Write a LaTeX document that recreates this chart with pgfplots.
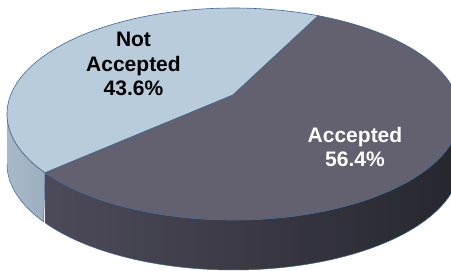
\documentclass[border=0pt]{standalone}
\usepackage{fontspec}
\setmainfont{Liberation Sans}
\usepackage{pgfplots}
\pgfplotsset{compat=1.18}
\definecolor{lighttop}{HTML}{B9CCDB}
\definecolor{lightsideL}{HTML}{A9B9C8}
\definecolor{lightsideR}{HTML}{9DAEBF}
\definecolor{darktop}{HTML}{636170}
\definecolor{darksideL}{HTML}{4D4B5A}
\definecolor{darksideR}{HTML}{26262D}
\definecolor{edge}{HTML}{3F6894}
% data: share of each slice (percent)
\def\vNot{43.6}
\def\vAcc{56.4}
% pie geometry (pixel units)
\def\cx{233.5}\def\cy{114}\def\ra{226.5}\def\rb{106}\def\h{50}
\def\px{233}\def\py{95}
\def\tA{68}\def\tB{213.7}
\begin{document}
\begin{tikzpicture}
\begin{axis}[width=451pt,height=271pt,scale only axis,
  xmin=0,xmax=451,ymin=0,ymax=271,y dir=reverse,hide axis,clip=true,
  declare function={sidet(\s,\a,\b)=(\s<1.005)*(\a+\s*(\b-\a))+(\s>=1.005)*(\b-(\s-1)*(\b-\a));
                    sidey(\s)=(\s>=1.005)*\h;}]
\addplot[draw=none] coordinates {(0,0) (451,271)};
% sides
\addplot[draw=edge, line width=0.5pt, left color=lightsideL, right color=lightsideR,
  domain=0:2, samples=101, variable=\s]
  ({\cx+\ra*cos(sidet(\s,180,\tB))},{\cy-\rb*sin(sidet(\s,180,\tB))+sidey(\s)});
\addplot[draw=edge, line width=0.5pt, left color=darksideL, right color=darksideR,
  domain=0:2, samples=201, variable=\s]
  ({\cx+\ra*cos(sidet(\s,\tB,360))},{\cy-\rb*sin(sidet(\s,\tB,360))+sidey(\s)});
% top faces
\addplot[fill=lighttop, draw=edge, line width=0.6pt, domain=\tA:\tB, samples=120]
  ({\cx+\ra*cos(x)},{\cy-\rb*sin(x)}) -- (\px,\py) -- cycle;
\addplot[fill=darktop, draw=edge, line width=0.6pt, domain=\tB:\tA+360, samples=150]
  ({\cx+\ra*cos(x)},{\cy-\rb*sin(x)}) -- (\px,\py) -- cycle;
% labels
\node[align=center, text=black, font=\bfseries\fontsize{21}{24.5}\selectfont] at (133.5,64) {Not\\Accepted\\\vNot\%};
\node[align=center, text=white, font=\bfseries\fontsize{21}{24.5}\selectfont] at (355,147) {Accepted\\\vAcc\%};
\end{axis}
\end{tikzpicture}
\end{document}
